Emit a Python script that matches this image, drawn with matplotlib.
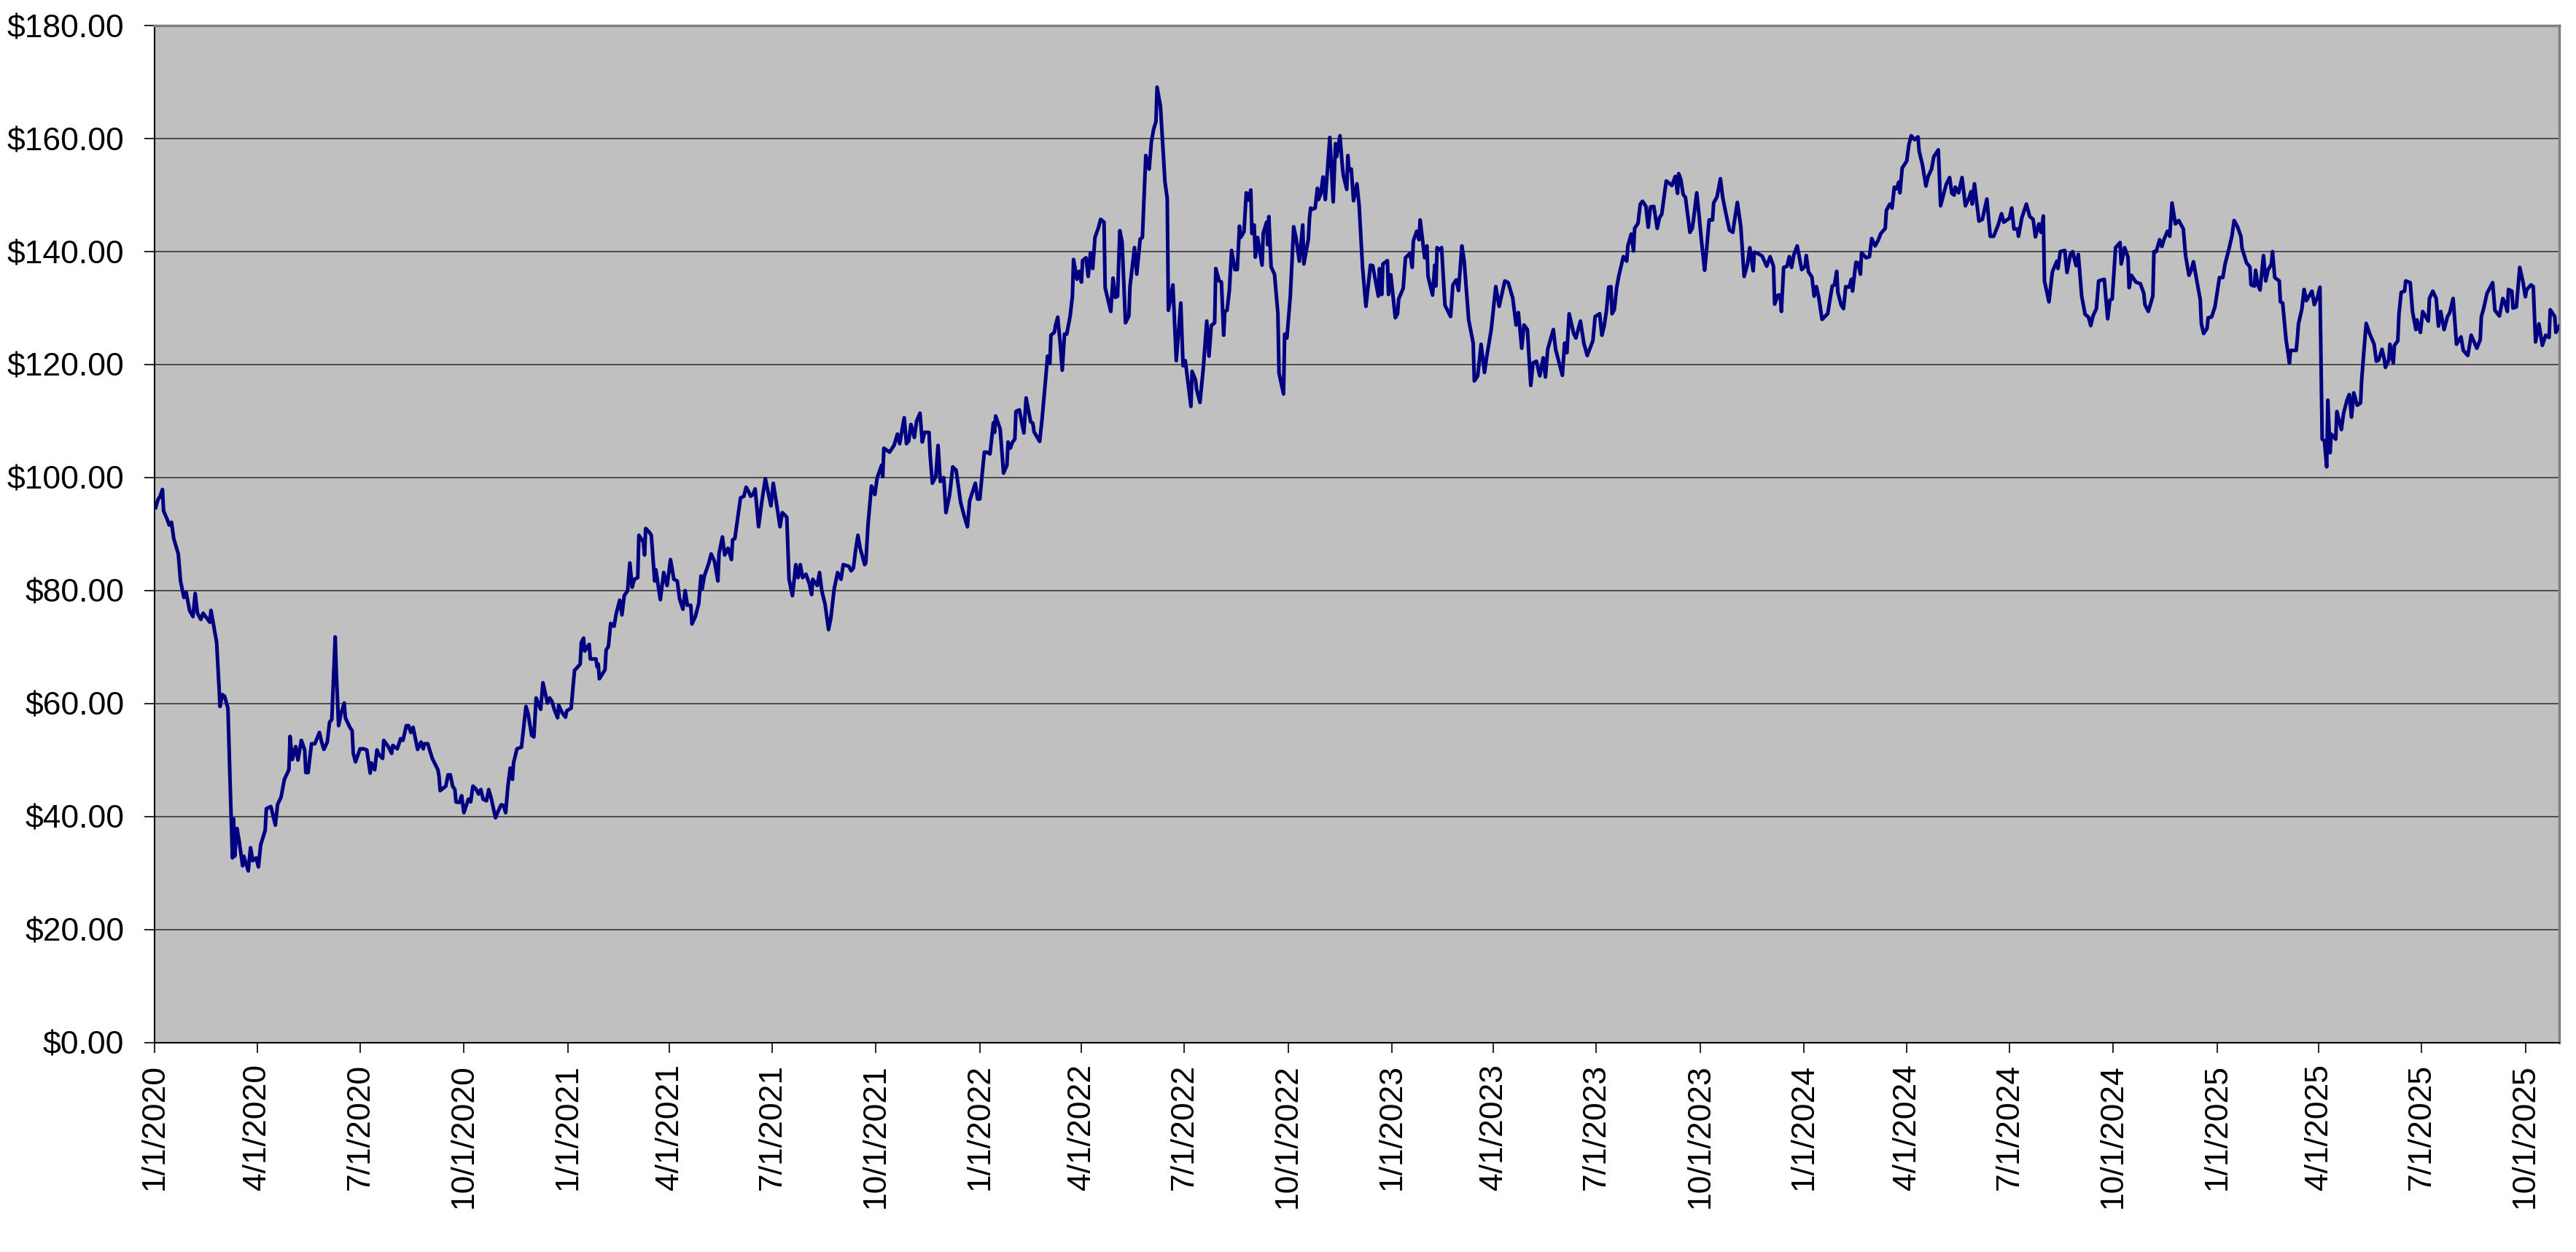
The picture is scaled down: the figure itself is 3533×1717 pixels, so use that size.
import matplotlib
matplotlib.use("Agg")
import matplotlib.pyplot as plt
import matplotlib.dates as mdates
from matplotlib.ticker import FuncFormatter
import numpy as np

plt.rcParams['font.family'] = ['Liberation Sans', 'DejaVu Sans']

start_date = "2020-01-01"

# days after 1/1/2020
day_offset = [
    1, 3, 5, 7, 8, 11, 13, 15, 17, 21, 23, 26, 28, 31, 34, 36, 38, 41, 43, 49, 50, 55, 58, 60, 62, 65, 67, 69, 70, 71,
    73, 75, 78, 79, 83, 85, 87, 90, 92, 94, 98, 99, 103, 107, 109, 112, 115, 119, 120, 122, 125, 127, 130, 133, 134,
    136, 139, 142, 146, 148, 150, 153, 155, 157, 160, 161, 163, 165, 168, 169, 173, 175, 176, 178, 182, 185, 188, 191,
    192, 195, 197, 199, 202, 203, 207, 210, 211, 215, 218, 220, 223, 225, 227, 229, 233, 236, 238, 239, 242, 246,
    251, 252, 253, 258, 260, 262, 264, 266, 267, 270, 272, 274, 278, 280, 282, 285, 287, 289, 291, 294, 296, 298, 302,
    304, 307, 309, 311, 313, 315, 317, 318, 321, 325, 329, 331, 334, 336, 338, 342, 344, 348, 350, 352, 354, 357, 358,
    361, 364, 365, 369, 372, 374, 377, 378, 380, 381, 385, 386, 391, 392, 393, 394, 399, 400, 402, 404, 407, 409, 412,
    414, 416, 419, 421, 423, 425, 428, 429, 433, 434, 435, 438, 440, 443, 444, 448, 451, 454, 457, 460, 463, 465, 468,
    470, 472, 475, 476, 479, 482, 484, 485, 487, 491, 493, 496, 499, 500, 503, 505, 508,
    511, 512, 514, 519, 522, 524, 526, 528, 530, 532, 535, 538, 541, 546, 548, 551, 554, 556, 560, 562, 565, 568, 570,
    572, 574, 577, 580, 582, 583, 587, 589, 591, 594, 597, 599, 602, 605, 608, 610, 615, 617, 619, 621, 623, 625, 629,
    630, 632, 635, 638, 640, 644, 645, 646, 651, 655, 658, 660, 664, 666, 668, 670, 673, 675, 678, 680, 682, 686, 687,
    689, 692, 694, 696, 699, 701, 704, 705, 707, 710, 714, 717, 720, 722, 727, 729, 731, 733, 735, 737, 740, 743, 744,
    745, 749, 752, 755, 756, 758, 760, 762, 763, 766,
    770, 772, 776, 778, 779, 784, 786, 789, 791, 793, 794, 797, 798, 800, 802, 804, 806, 808, 811, 813, 814, 817, 819,
    821, 822, 825, 827, 829, 831, 833, 836, 838, 841, 842, 847, 849, 851, 853, 855, 857, 860, 863, 864, 868, 870, 873,
    875, 878, 881, 883, 885, 887, 888, 891, 895, 897, 898, 902, 905, 909, 911, 913, 918, 919, 922, 923, 926, 929, 932,
    934, 936, 939, 940, 943, 945, 947, 948, 950, 952, 954, 957, 959, 961, 962, 965, 967, 969, 971, 972, 974, 975, 977,
    981, 982, 985, 986, 987, 989, 992, 995, 996, 1000, 1001, 1003, 1006, 1009, 1011, 1014, 1017, 1018, 1022, 1023, 1024,
    1026, 1028, 1030, 1031, 1033, 1035, 1037, 1041, 1044, 1046, 1047, 1050, 1052, 1053, 1056, 1057, 1058, 1060, 1062,
    1065, 1067, 1070, 1073, 1077, 1079, 1084, 1085, 1087, 1088, 1092, 1093, 1095, 1099, 1101, 1102, 1106, 1108, 1112,
    1114, 1115, 1118, 1120, 1121, 1125, 1127, 1128, 1132, 1134, 1135, 1136, 1138, 1140, 1143, 1148, 1150, 1153, 1155,
    1158, 1160, 1164, 1168, 1169, 1172, 1175, 1178, 1180, 1184, 1188, 1191, 1196, 1199, 1203, 1206, 1208, 1211, 1213,
    1216, 1219, 1221, 1224, 1227, 1230, 1232, 1234, 1239, 1241, 1247, 1249, 1251, 1253, 1257, 1259, 1263, 1266, 1269,
    1274, 1276, 1280, 1282,
    1284, 1286, 1288, 1290, 1291, 1293, 1295, 1297, 1301, 1304, 1305, 1308, 1310, 1311, 1314, 1316, 1318, 1321, 1323,
    1325, 1328, 1331, 1333, 1335, 1339, 1344, 1347, 1349, 1350, 1352, 1354, 1356, 1360, 1362, 1363, 1366, 1368, 1370,
    1373, 1374, 1377, 1380, 1381, 1384, 1387, 1389, 1392, 1395, 1398, 1399, 1402, 1405, 1408, 1411, 1413, 1416, 1417,
    1419, 1424, 1428, 1431, 1434, 1435, 1438, 1440, 1441, 1443, 1446, 1448, 1450, 1452, 1455, 1459, 1462, 1463, 1465,
    1468, 1470, 1472, 1474, 1477, 1482, 1486, 1488, 1490, 1491, 1494, 1496, 1498, 1501, 1503, 1504, 1507, 1509, 1511,
    1512, 1516, 1519, 1521, 1524, 1527, 1529, 1533, 1534, 1537, 1539, 1541,
    1543, 1545, 1546, 1548, 1552, 1554, 1556, 1559, 1562, 1563, 1566, 1569, 1571, 1574, 1576, 1580, 1582, 1584, 1587,
    1590, 1592, 1594, 1595, 1598, 1601, 1604, 1607, 1609, 1610, 1612, 1616, 1619, 1623, 1626, 1629, 1633, 1636, 1638,
    1643, 1645, 1647, 1650, 1651, 1654, 1658, 1661, 1664, 1666, 1669, 1671, 1673, 1674, 1678, 1681, 1685, 1686, 1688,
    1692, 1694, 1697, 1699, 1702, 1704, 1707, 1710, 1713, 1715, 1717, 1720, 1722, 1727, 1730, 1732, 1734, 1737, 1741,
    1742, 1745, 1748, 1749, 1751, 1755, 1759, 1762, 1763, 1766, 1770, 1771, 1773, 1776, 1778, 1780, 1783, 1785, 1787,
    1790, 1793, 1797, 1799,
    1802, 1804, 1806, 1809, 1812, 1813, 1815, 1818, 1819, 1822, 1825, 1829, 1832, 1834, 1837, 1840, 1842, 1845, 1848,
    1849, 1853, 1856, 1857, 1860, 1861, 1863, 1865, 1868, 1870, 1872, 1875, 1876, 1878, 1882, 1883, 1885, 1888, 1891,
    1892, 1897, 1898, 1899, 1902, 1904, 1906, 1911, 1913, 1916, 1918, 1919, 1920, 1922, 1924, 1925, 1927, 1928, 1932,
    1933, 1937, 1939, 1942, 1944, 1946, 1948, 1951, 1954, 1955, 1957, 1959, 1962, 1966, 1968, 1970, 1973, 1975, 1976,
    1979, 1980, 1983, 1984, 1987, 1988, 1990, 1993, 1994, 1998, 2000, 2003, 2004, 2007, 2009, 2014, 2015, 2018, 2021,
    2023, 2025, 2028, 2031, 2033, 2036, 2039, 2043, 2045, 2049, 2052, 2057, 2060, 2061, 2063, 2066, 2071, 2073, 2077,
    2080, 2082, 2084, 2085, 2088, 2089, 2092, 2095, 2098, 2100, 2101, 2105, 2107, 2109, 2112, 2115, 2118, 2121, 2122,
    2126, 2127, 2130,
]

price = [
    94.7, 96.1, 96.7, 97.9, 94.1, 92.7, 91.6, 92.1, 89.2, 86.5, 81.7, 78.8, 79.7, 76.5, 75.4, 79.5, 76.0, 74.9, 76.0, 74.4,
    76.5, 70.8, 59.5, 61.6, 61.3, 59.2, 45.4, 32.7, 39.6, 33.0, 37.9, 35.6, 31.3, 33.0, 30.4, 34.5, 32.2, 32.7, 31.1,
    35.0, 37.6, 41.4, 41.8, 38.5, 42.2, 43.4, 46.6, 48.3, 54.2, 50.1, 52.4, 50.0, 53.5, 51.8, 47.8, 47.8, 52.9, 52.9,
    54.9, 53.2, 51.9, 53.2, 56.7, 57.2, 71.8, 65.6, 56.1, 58.1, 60.1, 57.5, 55.8, 55.2, 51.2, 49.7, 52.0, 52.0, 51.8,
    47.7, 49.5, 48.3, 51.8, 50.9, 50.3, 53.5, 52.4, 51.2, 52.6, 52.0, 53.8, 53.5, 56.1, 56.1, 54.9, 55.8, 51.9, 53.2,
    52.0, 52.9, 52.9, 50.3,
    48.3, 47.1, 44.6, 45.4, 47.4, 47.4, 45.4, 44.8, 42.6, 42.5, 43.7, 40.7, 43.1, 42.6, 45.4, 44.8, 44.0, 44.8, 43.1,
    42.8, 44.8, 43.4, 39.8, 40.8, 42.1, 42.0, 40.7, 45.4, 48.6, 46.6, 49.5, 52.0, 52.3, 59.5, 58.1, 54.4, 54.1, 61.0,
    59.0, 63.7, 60.1, 61.0, 60.4, 59.0, 57.5, 59.7, 58.4, 57.6, 58.7, 59.2, 65.9, 66.3, 67.0, 70.8, 71.6, 69.3, 70.5,
    67.9, 67.9, 66.5, 67.0, 64.4, 66.0, 69.5, 70.1, 74.2, 73.7, 76.0, 78.3, 75.7, 79.1, 80.0, 84.9, 80.6, 82.0, 82.3,
    89.8, 88.6, 86.3, 91.0, 90.4, 89.8, 81.7, 83.7, 78.4, 83.2, 80.9, 85.5, 82.0, 81.7, 78.6, 76.7, 80.0, 77.4, 77.4,
    74.1, 75.4, 77.7, 82.6, 80.3, 82.6, 84.9, 86.5, 85.2, 81.7, 86.6, 89.5, 86.3, 87.5,
    85.5, 89.0, 89.2, 96.4, 96.7, 98.3, 97.6, 96.7, 97.0, 98.0, 91.3, 95.9, 99.8, 95.0, 99.0, 95.3, 91.3, 93.8, 93.0,
    82.0, 79.1, 84.6, 82.3, 84.6, 82.3, 82.9, 81.2, 79.3, 82.0, 80.9, 83.2, 80.0, 77.5, 73.1, 75.1, 80.3, 83.2, 82.0,
    84.6, 84.3, 83.5, 84.0, 87.2, 89.8, 87.5, 84.6, 84.9, 91.8, 98.5, 97.0, 99.9, 102.2, 100.2, 105.2, 104.5, 105.7,
    107.7, 106.0, 110.6, 106.0, 106.5, 109.4, 107.1, 110.0, 111.4, 106.3, 108.0, 108.0, 103.9, 99.0, 100.2, 105.7,
    99.3, 100.0, 93.8, 96.7, 98.2, 101.9, 101.3, 95.6, 93.3, 91.3, 95.9, 99.0, 96.2, 96.2, 100.5, 104.5, 104.5, 104.2,
    109.7, 108.0, 110.9, 108.6, 100.8, 102.2, 106.3, 105.2, 106.3, 106.8, 111.7, 112.0,
    107.9, 114.1, 109.9, 109.6, 108.1, 106.4, 110.1, 116.8, 121.5, 120.2, 125.2, 125.7, 126.9, 128.4, 124.2, 119.0,
    125.4, 125.4, 128.6, 132.1, 138.6, 135.1, 136.5, 134.6, 138.4, 138.9, 135.6, 139.8, 137.0, 142.5, 144.2, 145.7,
    145.2, 133.6, 129.4, 135.3, 131.9, 132.1, 143.7, 141.7, 127.4, 128.6, 133.8, 140.7, 136.0, 142.2, 142.5, 157.0,
    154.6, 159.5, 161.7, 163.0, 169.1, 165.7, 152.3, 149.4, 129.6, 134.1, 120.7, 130.9, 119.8, 120.7, 112.6, 118.8,
    117.3, 115.6, 113.3, 119.5, 127.7, 121.5, 126.9, 127.4, 137.0, 134.8, 134.6, 125.2, 129.4, 129.6, 133.1, 140.2,
    136.8, 136.8, 144.5, 142.5, 143.5, 150.4, 149.1, 150.9, 143.2, 144.7, 139.0, 142.5, 137.6, 143.2, 145.2, 141.2,
    146.2, 137.3, 136.0, 129.1, 118.5, 114.8, 125.4, 124.7, 132.1, 144.4, 142.5, 138.3, 144.7, 137.8, 142.2, 145.9,
    147.7,
    147.5, 147.7, 151.2, 149.2, 150.3, 153.2, 149.2, 160.2, 148.8, 159.1, 156.8, 160.5, 155.3, 153.5, 151.0, 157.0,
    154.4, 154.6, 149.0, 152.0, 148.1, 137.2, 130.3, 137.6, 137.5, 132.1, 137.0, 132.4, 137.8, 138.4, 132.4, 135.9,
    128.3, 129.0, 131.6, 133.5, 138.9, 139.7, 137.2, 141.9, 143.6, 142.1, 145.6, 138.9, 141.0, 135.6, 132.3, 137.6,
    133.9, 140.7, 140.2, 140.7, 130.5, 128.5, 134.1, 135.0, 133.1, 141.0, 138.4, 127.9, 123.8, 117.1, 118.0, 123.6,
    118.6, 121.4, 126.2, 133.8, 130.3, 134.8, 134.5, 131.8, 127.0, 129.2, 122.9, 127.0, 126.2, 116.3, 120.3, 120.6,
    118.0, 121.2, 117.8, 122.7, 126.2, 122.7, 118.1, 123.8, 122.1, 129.0, 125.5, 124.7, 127.7, 123.8, 121.6, 124.2,
    128.5, 129.0, 125.2,
    126.8, 129.5, 133.7, 133.8, 129.0, 129.7, 133.5, 135.7, 139.1, 138.3, 141.0, 143.1, 140.1, 144.1, 145.0, 148.4,
    148.9, 148.0, 144.3, 147.9, 148.0, 144.1, 146.0, 146.6, 152.5, 151.7, 153.3, 150.3, 153.8, 152.7, 150.1, 149.6,
    143.4, 144.1, 145.4, 150.4, 146.6, 142.3, 136.7, 138.7, 145.6, 145.6, 148.6, 149.7, 152.9, 149.6, 146.6, 143.8,
    143.4, 144.9, 148.7, 144.5, 135.6, 137.8, 140.7, 136.6, 139.9, 139.8, 139.2, 137.4, 139.1, 137.4, 130.7, 132.3,
    132.3, 129.4, 137.2, 137.4, 139.1, 137.2, 139.4, 141.0, 136.8, 137.4, 139.3, 136.4, 135.5, 132.1, 133.8, 132.0,
    128.0, 129.0, 133.9, 134.1, 136.5, 132.8, 130.5, 129.9, 133.8, 133.7, 135.1, 133.0, 138.1, 138.0, 136.0, 139.8,
    138.9, 139.1, 142.3, 141.0, 142.1, 143.2, 144.1, 147.3, 148.4, 147.7, 151.4,
    151.1, 152.3, 150.4, 154.8, 156.0, 159.0, 160.5, 159.8, 160.3, 157.8, 155.3, 151.6, 153.3, 154.6, 156.8, 158.0,
    148.1, 149.6, 151.9, 153.1, 150.3, 150.0, 151.4, 150.4, 153.1, 148.1, 149.4, 150.6, 148.4, 152.0, 145.4, 145.7,
    149.3, 142.7, 142.7, 144.7, 146.7, 145.2, 145.9, 147.7, 144.0, 144.0, 142.7, 146.0, 148.4, 146.2, 145.7, 142.6,
    144.9, 143.4, 146.3, 134.8, 131.1, 136.4, 138.3, 137.0, 140.0, 140.2, 136.3, 139.5, 140.0, 137.5, 139.5, 132.1,
    128.9, 128.4, 126.9, 128.6, 129.9, 134.8, 135.1, 128.1, 131.4, 131.6, 140.7, 141.6, 137.8, 140.7, 139.0, 133.6,
    135.8, 134.6, 134.3, 132.6, 130.6, 129.4, 132.1, 140.0, 140.0, 142.1, 140.9, 142.2, 143.6, 142.7, 148.6, 144.9,
    145.5, 144.0, 139.3,
    135.8, 136.7, 138.2, 134.8, 131.5, 127.2, 125.5, 126.4, 128.3, 128.4, 130.2, 135.4, 135.4, 137.8, 140.1, 142.7,
    145.5, 144.4, 142.7, 140.6, 138.0, 137.3, 134.1, 133.9, 136.7, 134.1, 133.2, 139.3, 134.8, 136.7, 137.8, 140.0,
    135.4, 134.8, 131.1, 130.9, 124.4, 120.3, 122.5, 122.5, 124.6, 127.2, 129.8, 133.3, 131.3, 133.0, 130.6, 132.0,
    133.7, 119.9, 106.8, 106.5, 101.9, 113.7, 104.4, 107.7, 106.8, 111.7, 108.5, 111.4, 113.7, 114.7, 110.7, 115.0,
    112.8, 113.2, 117.3, 122.5, 127.3, 125.5, 123.6, 120.6, 120.8, 122.7, 121.0, 119.5, 120.8, 123.6, 120.3, 123.4,
    124.2, 128.9, 132.8, 133.0, 134.8, 134.5, 129.4, 126.2, 127.9, 125.7, 129.4, 127.7, 131.7, 133.0, 131.7, 126.8,
    129.4, 126.2, 128.5, 129.2, 131.7, 123.6, 124.9, 122.5, 121.6, 125.2, 122.9, 124.4, 128.5, 129.9, 132.6, 134.5,
    129.6, 128.6, 131.7, 130.9, 129.4, 133.3, 133.0, 130.0, 130.2, 137.2, 134.5, 132.0, 133.2, 134.1, 133.8, 124.0,
    127.2, 123.4, 125.2, 124.8, 129.7, 128.5, 125.7, 126.8,
]

y_ticks = [0, 20, 40, 60, 80, 100, 120, 140, 160, 180]

base = np.datetime64(start_date)
dates = base + np.array(day_offset).astype('timedelta64[D]')

fig = plt.figure(figsize=(35.33, 17.17), dpi=100)
ax = fig.add_axes([0.060, 0.1672, 0.9335, 0.8124])
ax.set_facecolor('#C0C0C0')

ax.plot(dates, price, color='#000080', lw=3.6, solid_joinstyle='round', zorder=3)

ax.set_ylim(y_ticks[0], y_ticks[-1])
ax.set_yticks(y_ticks)
ax.yaxis.set_major_formatter(FuncFormatter(lambda v, p: f"${v:,.2f}"))
ax.grid(axis='y', color='#383838', lw=1.2, zorder=1)
ax.set_axisbelow(True)

ax.set_xlim(base, dates[-1])
ax.xaxis.set_major_locator(mdates.MonthLocator(bymonth=[1, 4, 7, 10], bymonthday=1))
def xfmt(v, p):
    d = mdates.num2date(v)
    return f"{d.month}/{d.day}/{d.year}"
ax.xaxis.set_major_formatter(FuncFormatter(xfmt))

ax.tick_params(axis='both', direction='out', length=10, width=1.2, colors='black', labelsize=32)
ax.tick_params(axis='x', labelrotation=90, pad=11)
ax.tick_params(axis='y', pad=20)

for s in ['top', 'right']:
    ax.spines[s].set_color('#808080')
    ax.spines[s].set_linewidth(2.5)
for s in ['left', 'bottom']:
    ax.spines[s].set_color('#000000')
    ax.spines[s].set_linewidth(1.5)

fig.savefig('out.png', dpi=100, facecolor='white')
